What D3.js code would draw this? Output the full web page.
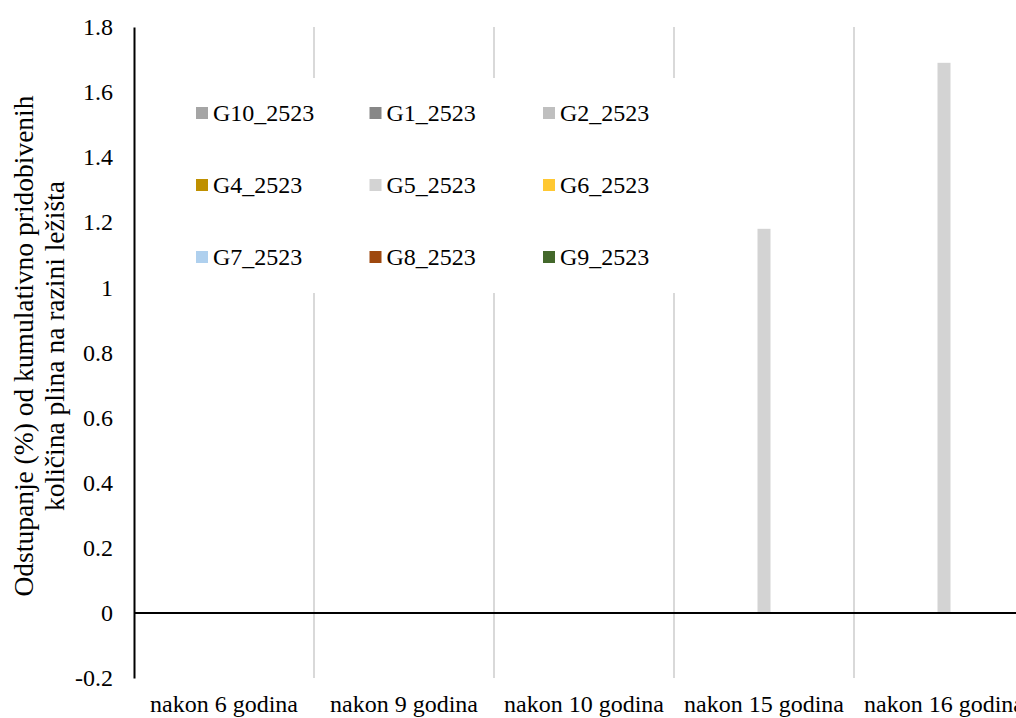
<!DOCTYPE html>
<html><head><meta charset="utf-8">
<script src="https://cdn.jsdelivr.net/npm/d3@7"></script>
<style>body{margin:0;background:#fff;} svg{display:block;font-family:"Liberation Serif","Times New Roman",serif;}</style>
</head><body>
<svg id="c" width="1016" height="718"></svg>
<script>
const categories = ["nakon 6 godina","nakon 9 godina","nakon 10 godina","nakon 15 godina","nakon 16 godina"];
const seriesNames = ["G10_2523","G1_2523","G2_2523","G4_2523","G5_2523","G6_2523","G7_2523","G8_2523","G9_2523"];
const seriesColors = ["#a5a5a5","#878787","#bfbfbf","#bf9000","#d3d3d3","#ffc832","#afd0ee","#9e480e","#43682b"];
const G10 = [0,0,0,0,0];
const G1  = [0,0,0,0,0];
const G2  = [0,0,0,0,0];
const G4  = [0,0,0,0,0];
const G5  = [0,0,0,1.18,1.69];
const G6  = [0,0,0,0,0];
const G7  = [0,0,0,0,0];
const G8  = [0,0,0,0,0];
const G9  = [0,0,0,0,0];
const seriesValues = [G10,G1,G2,G4,G5,G6,G7,G8,G9];
const yTicks = [-0.2,0,0.2,0.4,0.6,0.8,1,1.2,1.4,1.6,1.8];
const yTitle = ["Odstupanje (%) od kumulativno pridobivenih","količina plina na razini ležišta"];

const svg = d3.select("#c");
const L = 134, R = 1034, T = 27, B = 678;
const x0 = d3.scaleBand().domain(categories).range([L, R]).padding(0);
const step = 13;
const po = (x0.bandwidth()/step - seriesNames.length)/2;
const x1 = d3.scaleBand().domain(seriesNames).range([0, x0.bandwidth()]).paddingInner(0).paddingOuter(po);
const y = d3.scaleLinear().domain([-0.2, 1.8]).range([B, T]);

// category gridlines
svg.append("g").selectAll("line").data(categories.slice(1)).join("line")
  .attr("x1", d => x0(d)).attr("x2", d => x0(d))
  .attr("y1", T).attr("y2", B)
  .attr("stroke", "#d9d9d9").attr("stroke-width", 2);

// bars
const rows = [];
seriesNames.forEach((s, i) => categories.forEach((c, j) => rows.push({s, c, v: seriesValues[i][j], col: seriesColors[i]})));
svg.append("g").selectAll("rect").data(rows.filter(d => d.v !== 0)).join("rect")
  .attr("x", d => x0(d.c) + x1(d.s))
  .attr("width", x1.bandwidth())
  .attr("y", d => y(Math.max(0, d.v)))
  .attr("height", d => Math.abs(y(d.v) - y(0)))
  .attr("fill", d => d.col);

// zero line
svg.append("line").attr("x1", L).attr("x2", 1016).attr("y1", y(0)).attr("y2", y(0))
  .attr("stroke", "#000").attr("stroke-width", 2);

// y axis
const yAxis = d3.axisLeft(y).tickValues(yTicks).tickSize(0).tickPadding(21)
  .tickFormat(d => String(+d.toFixed(1)));
const ga = svg.append("g").attr("transform", `translate(${L},0)`).call(yAxis);
ga.select(".domain").attr("stroke", "#000").attr("stroke-width", 2);
ga.selectAll("text").attr("font-size", 24).attr("fill", "#000").attr("font-family", "Liberation Serif");

// x labels
const xAxis = d3.axisBottom(x0).tickSize(0).tickPadding(17);
const gx = svg.append("g").attr("transform", `translate(0,${B})`).call(xAxis);
gx.select(".domain").remove();
gx.selectAll("text").attr("font-size", 24).attr("fill", "#000").attr("font-family", "Liberation Serif");

// y title
const yt = svg.append("text").attr("transform", "translate(33,346) rotate(-90)")
  .attr("text-anchor", "middle").attr("font-size", 27.5).attr("fill", "#000");
yTitle.forEach((t, i) => yt.append("tspan").attr("x", 0).attr("dy", i === 0 ? 0 : 31).text(t));

// legend
svg.append("rect").attr("x", 180).attr("y", 78).attr("width", 520).attr("height", 215).attr("fill", "#fff");
const lg = svg.append("g").selectAll("g").data(seriesNames).join("g")
  .attr("transform", (d, i) => `translate(${196 + (i % 3) * 173.5},${113 + Math.floor(i / 3) * 72})`);
lg.append("rect").attr("x", 0).attr("y", -6).attr("width", 12).attr("height", 12)
  .attr("fill", (d, i) => seriesColors[i]);
lg.append("text").attr("x", 17).attr("y", 0).attr("dy", "0.35em").attr("font-size", 24)
  .attr("fill", "#000").text(d => d);
</script>
</body></html>
